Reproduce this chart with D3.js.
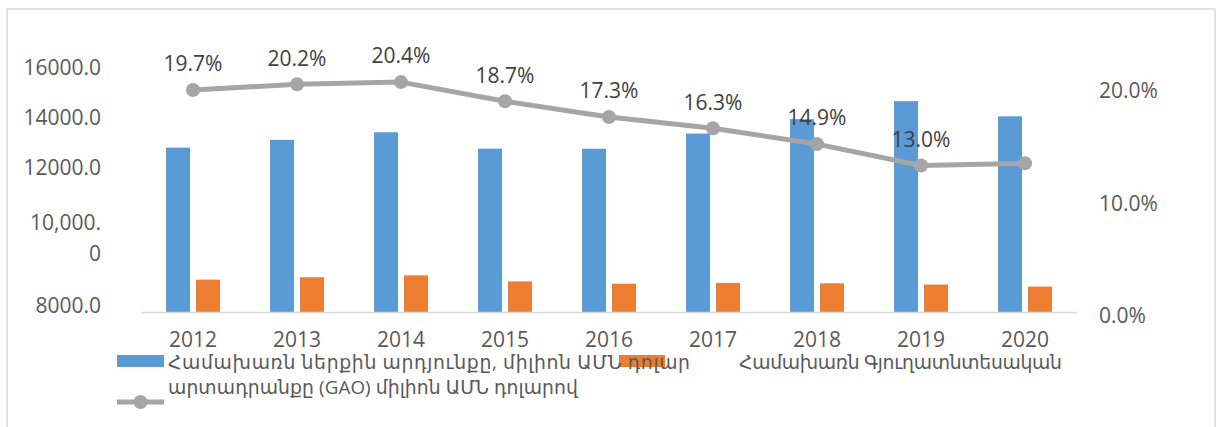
<!DOCTYPE html>
<html>
<head>
<meta charset="utf-8">
<script src="https://cdn.jsdelivr.net/npm/d3@7"></script>
<style>
  html, body { margin: 0; padding: 0; background: #fff; }
  svg { display: block; font-family: "Open Sans", "DejaVu Sans", sans-serif; }
</style>
</head>
<body>
<svg id="chart" width="1216" height="427"></svg>
<script>
// Years on the category axis
const years = ["2012", "2013", "2014", "2015", "2016", "2017", "2018", "2019", "2020"];
// Gross domestic product, million USD
const gdp = [10619, 11121, 11610, 10553, 10546, 11527, 12458, 13619, 12642];
// Gross agricultural output (GAO), million USD
const gao = [2090, 2245, 2370, 1975, 1825, 1880, 1855, 1770, 1640];
// Agriculture share of GDP, percent
const share = [19.7, 20.2, 20.4, 18.7, 17.3, 16.3, 14.9, 13.0, 13.2];
// Years whose share carries a data label
const labelledYears = ["2012", "2013", "2014", "2015", "2016", "2017", "2018", "2019"];
// Left axis tick values and their printed labels
const leftTicks = [16000, 14000, 12000, 10000, 8000];
const leftTickLabels = ["16000.0", "14000.0", "12000.0", "10,000.0", "8000.0"];
// Right axis tick values
const rightTicks = [0, 10, 20];
// Legend texts
const legendGdp = "Համախառն ներքին արդյունքը, միլիոն ԱՄՆ դոլար";
const legendGaoLine1 = "Համախառն Գյուղատնտեսական";
const legendGaoLine2 = "արտադրանքը (GAO) միլիոն ԱՄՆ դոլարով";

const colors = { gdp: "#5b9bd5", gao: "#ed7d31", share: "#a5a5a5", axis: "#595959", label: "#404040", grid: "#d9d9d9" };
const numSize = 21, legendSize = 18.8;

const svg = d3.select("#chart");

// chart frame
svg.append("rect")
  .attr("x", 7).attr("y", 9).attr("width", 1208).attr("height", 440)
  .attr("fill", "none").attr("stroke", colors.grid).attr("stroke-width", 1.5);

const plot = { left: 141, right: 1077, base: 312 };

const x = d3.scaleBand().domain(years).range([plot.left, plot.right]);
const yVal = d3.scaleLinear().domain([0, 16000]).range([plot.base, plot.base - 16000 / 64.6]);
const yPct = d3.scaleLinear().domain([0, 20]).range([plot.base, 86.6]);
// printed left-axis labels sit on an uneven ladder
const yLeftLabel = d3.scaleLinear().domain([8000, 10000, 12000, 16000]).range([306, 238, 168, 68]);

const barW = 24, barGap = 6;

// GDP bars
svg.append("g").selectAll("rect").data(years).join("rect")
  .attr("x", d => x(d) + x.bandwidth() / 2 - barW - barGap / 2)
  .attr("y", (d, i) => yVal(gdp[i]))
  .attr("width", barW)
  .attr("height", (d, i) => yVal(0) - yVal(gdp[i]))
  .attr("fill", colors.gdp);

// GAO bars
svg.append("g").selectAll("rect").data(years).join("rect")
  .attr("x", d => x(d) + x.bandwidth() / 2 + barGap / 2)
  .attr("y", (d, i) => yVal(gao[i]))
  .attr("width", barW)
  .attr("height", (d, i) => yVal(0) - yVal(gao[i]))
  .attr("fill", colors.gao);

// category baseline
svg.append("line")
  .attr("x1", plot.left).attr("x2", plot.right)
  .attr("y1", plot.base + 0.5).attr("y2", plot.base + 0.5)
  .attr("stroke", colors.grid).attr("stroke-width", 1.5);

// category labels
svg.append("g").selectAll("text").data(years).join("text")
  .attr("x", d => x(d) + x.bandwidth() / 2)
  .attr("y", 340)
  .attr("dy", "0.35em")
  .attr("text-anchor", "middle")
  .attr("font-size", numSize)
  .attr("fill", colors.axis)
  .text(d => d);

// left axis labels
const leftG = svg.append("g");
leftTicks.forEach((v, i) => {
  const label = leftTickLabels[i];
  const t = leftG.append("text")
    .attr("x", 101).attr("y", yLeftLabel(v))
    .attr("text-anchor", "end")
    .attr("font-size", numSize)
    .attr("fill", colors.axis);
  if (label.length > 7) {
    // long label wraps onto two lines
    const head = label.slice(0, label.length - 1), tail = label.slice(-1);
    t.append("tspan").attr("x", 101).attr("dy", "-0.39em").text(head);
    t.append("tspan").attr("x", 101).attr("dy", "1.48em").text(tail);
  } else {
    t.attr("dy", "0.35em").text(label);
  }
});

// right axis labels
svg.append("g").selectAll("text").data(rightTicks).join("text")
  .attr("x", 1099)
  .attr("y", d => yPct(d) + 4)
  .attr("dy", "0.35em")
  .attr("font-size", numSize)
  .attr("fill", colors.axis)
  .text(d => d3.format(".1f")(d) + "%");

// share line
const cx = d => x(d) + x.bandwidth() / 2;
const line = d3.line().x((d, i) => cx(years[i])).y(d => yPct(d));
svg.append("path")
  .datum(share)
  .attr("d", line)
  .attr("fill", "none")
  .attr("stroke", colors.share)
  .attr("stroke-width", 5)
  .attr("stroke-linejoin", "round");

svg.append("g").selectAll("circle").data(share).join("circle")
  .attr("cx", (d, i) => cx(years[i]))
  .attr("cy", d => yPct(d))
  .attr("r", 7)
  .attr("fill", colors.share);

// share data labels
svg.append("g").selectAll("text")
  .data(years.map((y, i) => ({ y, v: share[i] })).filter(d => labelledYears.includes(d.y)))
  .join("text")
  .attr("x", d => cx(d.y))
  .attr("y", d => yPct(d.v) - 26)
  .attr("dy", "0.35em")
  .attr("text-anchor", "middle")
  .attr("font-size", numSize)
  .attr("fill", colors.label)
  .text(d => d3.format(".1f")(d.v) + "%");

// legend
const lg = svg.append("g");
lg.append("rect").attr("x", 117).attr("y", 355).attr("width", 47).attr("height", 12).attr("fill", colors.gdp);
lg.append("rect").attr("x", 619).attr("y", 355).attr("width", 46).attr("height", 12).attr("fill", colors.gao);
lg.append("line").attr("x1", 117).attr("x2", 164).attr("y1", 402).attr("y2", 402)
  .attr("stroke", colors.share).attr("stroke-width", 5);
lg.append("circle").attr("cx", 140.5).attr("cy", 402).attr("r", 7).attr("fill", colors.share);

const legendText = [
  { t: legendGdp, x: 168, y: 362, w: 522 },
  { t: legendGaoLine1, x: 739, y: 362, w: 323 },
  { t: legendGaoLine2, x: 168, y: 387, w: 410 }
];
lg.selectAll("text").data(legendText).join("text")
  .attr("x", d => d.x).attr("y", d => d.y)
  .attr("dy", "0.35em")
  .attr("font-size", legendSize)
  .attr("textLength", d => d.w)
  .attr("lengthAdjust", "spacing")
  .attr("fill", colors.axis)
  .text(d => d.t);
</script>
</body>
</html>
